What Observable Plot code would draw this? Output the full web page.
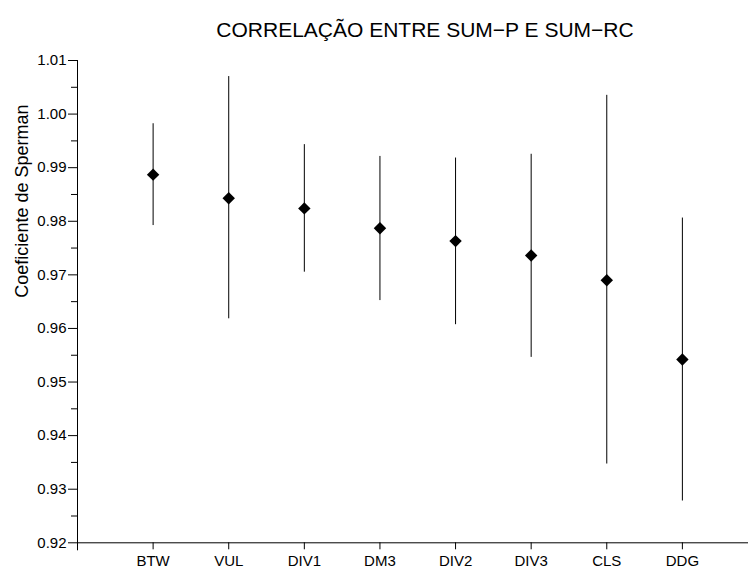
<!DOCTYPE html>
<html>
<head>
<meta charset="utf-8">
<script src="https://cdn.jsdelivr.net/npm/d3@7"></script>
<script src="https://cdn.jsdelivr.net/npm/@observablehq/plot@0.6"></script>
<style>
  body { margin: 0; background: #fff; }
  #chart svg { display: block; }
</style>
</head>
<body>
<div id="chart"></div>
<script>
// ---- data ----
const categories = ["BTW", "VUL", "DIV1", "DM3", "DIV2", "DIV3", "CLS", "DDG"];
const estimates  = [0.9887, 0.9843, 0.9824, 0.9787, 0.9763, 0.9736, 0.9690, 0.9542];
const lower      = [0.9792, 0.9618, 0.9705, 0.9652, 0.9607, 0.9546, 0.9347, 0.9278];
const upper      = [0.9982, 1.0070, 0.9943, 0.9921, 0.9918, 0.9925, 1.0035, 0.9806];
const yMajorTicks = [0.92, 0.93, 0.94, 0.95, 0.96, 0.97, 0.98, 0.99, 1.00, 1.01];
const yMinorTicks = [0.925, 0.935, 0.945, 0.955, 0.965, 0.975, 0.985, 0.995, 1.005];
const xTicks = [1, 2, 3, 4, 5, 6, 7, 8];
const titleText = "CORRELAÇÃO ENTRE SUM\u2212P E SUM\u2212RC";
const yLabelText = "Coeficiente de Sperman";

const yDomain = [0.92, 1.01];
const xDomain = [0, 9];

const data = categories.map((c, i) => ({
  pos: i + 1, cat: c, est: estimates[i], lo: lower[i], hi: upper[i]
}));

const chart = Plot.plot({
  width: 748,
  height: 570,
  marginTop: 60,
  marginBottom: 27.7,
  marginLeft: 77,
  marginRight: 0,
  style: {
    fontFamily: '"Liberation Sans", Arial, Helvetica, sans-serif',
    background: "#fff",
    color: "#000"
  },
  x: { domain: xDomain, range: [77, 757.5], axis: null },
  y: { domain: yDomain, axis: null },
  marks: [
    // minor y ticks
    Plot.axisY({ ticks: yMinorTicks, tickSize: 6, tickFormat: () => "", label: null }),
    // major y ticks
    Plot.axisY({ ticks: yMajorTicks, tickSize: 9, tickPadding: 2,
                 tickFormat: d3.format(".2f"), fontSize: 15, label: null }),
    // x ticks with category labels
    Plot.axisX({ ticks: xTicks, tickSize: 7, tickPadding: 6,
                 tickFormat: i => categories[i - 1], fontSize: 15, label: null }),
    // axis lines
    Plot.ruleY([yDomain[0]], { stroke: "#000" }),
    Plot.ruleX([xDomain[0]], { y1: yDomain[1], y2: yDomain[0], insetBottom: -8, stroke: "#000" }),
    // error bars
    Plot.ruleX(data, { x: "pos", y1: "lo", y2: "hi", stroke: "#000", strokeWidth: 1 }),
    // point estimates
    Plot.dot(data, { x: "pos", y: "est", symbol: "diamond2", r: 5.6, fill: "#000" }),
    // title
    Plot.text([titleText], { text: d => d, frameAnchor: "top", dx: 12, dy: -38.5,
                             fontSize: 21, fill: "#000" }),
    // y label
    Plot.text([yLabelText], { text: d => d, frameAnchor: "left", dx: -55, dy: -4,
                              rotate: -90, fontSize: 18, fill: "#000" })
  ]
});

document.getElementById("chart").appendChild(chart);
</script>
</body>
</html>
